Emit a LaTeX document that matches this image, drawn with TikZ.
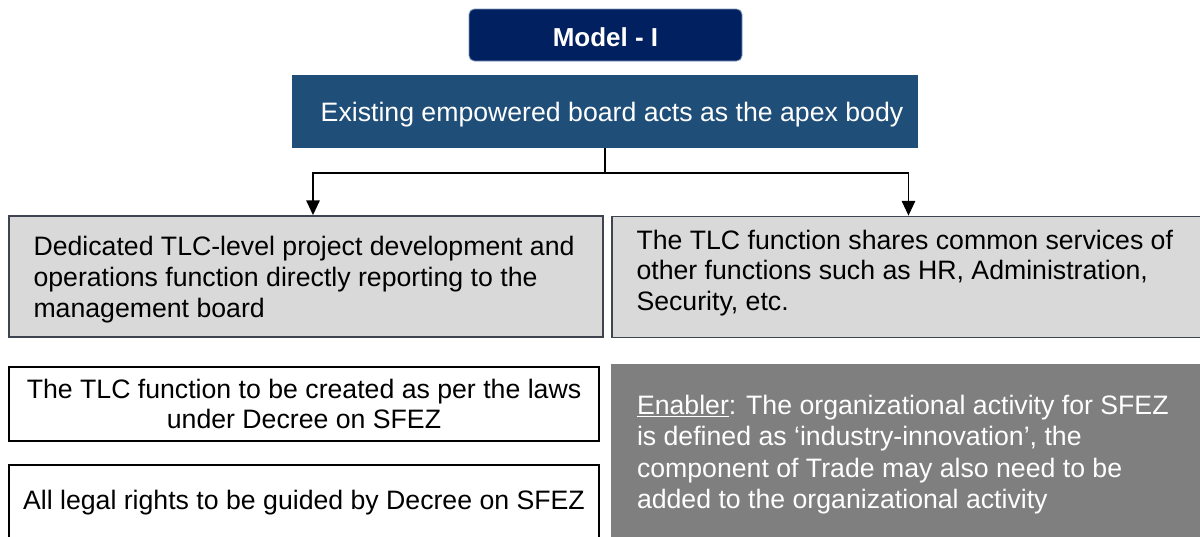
\documentclass[tikz,border=0pt]{standalone}
\usepackage{fontspec}
\setmainfont{Liberation Sans}
\usetikzlibrary{arrows.meta}
\definecolor{navy}{HTML}{002060}
\definecolor{navyedge}{HTML}{8096B8}
\definecolor{apexblue}{HTML}{1F4E79}
\definecolor{lightgrey}{HTML}{D9D9D9}
\definecolor{greyedge}{HTML}{3F4550}
\definecolor{darkgrey}{HTML}{7F7F7F}
\tikzset{
  x=0.75pt, y=-0.75pt,
  bodyfont/.style={font=\fontsize{20}{23}\selectfont},
  titlebox/.style={draw=navyedge, line width=0.6pt, fill=navy, rounded corners=4pt,
    text=white, font=\fontsize{19.5}{22}\selectfont\bfseries,
    text height=17pt, text depth=0pt,
    minimum width=204.75pt, minimum height=39pt, inner sep=0pt},
  apexbox/.style={fill=apexblue, text=white, bodyfont,
    text height=19pt, text depth=4.2pt,
    minimum width=469.5pt, minimum height=54.75pt, inner sep=0pt},
  greybox/.style={draw=greyedge, line width=1.1pt, fill=lightgrey, bodyfont,
    minimum height=91pt, inner sep=0pt},
  plainbox/.style={draw=black, line width=0.9pt, fill=white, bodyfont,
    minimum width=442.5pt, inner sep=0pt, align=center},
  enablerbox/.style={fill=darkgrey, text=white,
    minimum width=445.5pt, minimum height=132pt, inner sep=0pt},
  bodytext/.style={bodyfont, align=left, inner sep=0pt},
  conn/.style={line width=1.2pt, -{Triangle[length=11pt,width=10pt]}}
}
\begin{document}
\begin{tikzpicture}
\useasboundingbox (0,0) rectangle (1200,536);

% heading and apex body
\node[titlebox] (model) at (605.5,35) {Model - I};
\node[apexbox] (apex) at (605,111.5)
  {\hspace*{10.5pt}Existing empowered board acts as the apex body};

% two organisational options
\node[greybox, minimum width=445.5pt] (left) at (306,276.5) {};
\node[bodytext, anchor=west] (lefttext) at ([xshift=18.75pt,yshift=-2.25pt]left.west)
  {Dedicated TLC-level project development and\\
   operations function directly reporting to the\\
   management board};
\node[greybox, minimum width=444.75pt] (right) at (908.5,277) {};
\node[bodytext, anchor=west] (righttext) at ([xshift=18.75pt,yshift=3pt]right.west)
  {The TLC function shares common services of\\
   other functions such as HR, Administration,\\
   Security, etc.};

% branching connector
\coordinate (split) at (605,173);
\draw[conn] (apex.south) -- (split) -| ([xshift=5.25pt]left.north);
\draw[conn] (split) -| (right.north);

% legal notes
\node[plainbox, minimum height=55.5pt] (laws) at (304,404)
  {The TLC function to be created as per the laws\\under Decree on SFEZ};
\node[plainbox, minimum height=56.25pt] (rights) at (304,502.5)
  {All legal rights to be guided by Decree on SFEZ};

% enabler note
\node[enablerbox] (enabler) at (908,452) {};
\node[bodytext, text=white, font=\fontsize{20}{23.5}\selectfont, anchor=west] (enablertext)
  at ([xshift=19.5pt,yshift=-2pt]enabler.west)
  {\underline{Enabler}: The organizational activity for SFEZ\\
   is defined as ‘industry-innovation’, the\\
   component of Trade may also need to be\\
   added to the organizational activity};
\end{tikzpicture}
\end{document}
